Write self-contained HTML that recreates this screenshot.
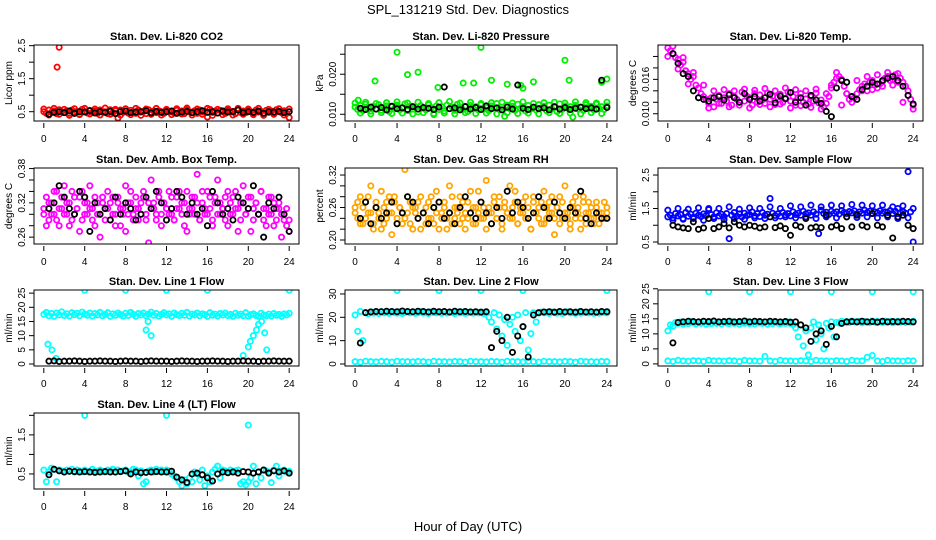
<!DOCTYPE html>
<html><head><meta charset="utf-8"><style>
html,body{margin:0;padding:0;background:#fff;}
svg{display:block;font-family:"Liberation Sans",Arial,sans-serif;}
</style></head><body>
<svg id="chart" width="936" height="540" viewBox="0 0 936 540" xmlns="http://www.w3.org/2000/svg">
<text x="468" y="14" text-anchor="middle" font-size="13">SPL_131219  Std. Dev. Diagnostics</text>
<text x="468" y="531" text-anchor="middle" font-size="13">Hour of Day (UTC)</text>
</svg>
<script>
const xTicks=[0,4,8,12,16,20,24];
const co2Red=[0.5,0.45,0.55,0.48,0.52,0.44,0.56,0.5,0.47,0.53,0.45,0.55,0.49,0.51,0.43,0.57,0.5,0.46,0.54,0.48,0.52,0.45,0.55,0.49,0.5,0.44,0.56,0.47,0.53,0.31,0.55,0.48,0.52,0.46,0.54,0.5,0.45,0.55,0.49,0.51,0.44,0.56,0.48,0.52,0.47,0.53,0.5,0.45,0.55,0.49,0.51,0.46,0.54,0.48,0.52,0.44,0.56,0.5,0.47,0.53,0.45,0.55,0.49,0.51,0.34,0.57,0.48,0.52,0.46,0.54,0.5,0.45,0.55,0.49,0.51,0.44,0.56,0.48,0.52,0.47,0.53,0.5,0.45,0.55,0.49,0.51,0.46,0.54,0.48,0.52,0.44,0.56,0.5,0.47,0.53,0.45,0.32];
const co2Red2=[0.58,0.4,0.6,0.42,0.57,0.39,0.59,0.41,0.6,0.43,0.58,0.4,0.61,0.42,0.57,0.4,0.59,0.41,0.6,0.39,0.58,0.42,0.6,0.4,0.57,0.41,0.59,0.43,0.61,0.4,0.58,0.42,0.6,0.39,0.57,0.41,0.59,0.4,0.6,0.42,0.58,0.41,0.6,0.39,0.57,0.42,0.59,0.4,0.58];
const co2OutX=[1.3,1.5];
const co2OutY=[1.85,2.45];
const co2Black=[0.42,0.48,0.5,0.47,0.52,0.45,0.5,0.49,0.53,0.46,0.5,0.48,0.51,0.44,0.5,0.52,0.47,0.49,0.5,0.53,0.46,0.51,0.48,0.5,0.52,0.45,0.49,0.51,0.47,0.5,0.53,0.48,0.5,0.46,0.52,0.49,0.5,0.55,0.47,0.5,0.48,0.52,0.45,0.5,0.49,0.51,0.47,0.5];
const pressGreen=[0.0118,0.0112,0.0122,0.0109,0.0125,0.0115,0.0108,0.012,0.0113,0.0124,0.011,0.0117,0.0121,0.0107,0.0119,0.0114,0.0123,0.0111,0.0116,0.0126,0.0109,0.012,0.0113,0.0118,0.0106,0.0122,0.0115,0.0111,0.0124,0.0117,0.0099,0.0121,0.0112,0.0119,0.0108,0.0123,0.0114,0.0118,0.011,0.0125,0.0116,0.0112,0.012,0.0107,0.0122,0.0115,0.0119,0.0111,0.0124,0.0113,0.0117,0.0109,0.0121,0.0116,0.0127,0.0112,0.0118,0.0095,0.0123,0.0114,0.012,0.011,0.0125,0.0115,0.0119,0.0108,0.0122,0.0113,0.0117,0.0111,0.0124,0.0116,0.012,0.0109,0.0123,0.0114,0.0118,0.0107,0.0126,0.0112,0.0121,0.0115,0.0119,0.0093,0.0122,0.0113,0.0117,0.011,0.0124,0.0116,0.012,0.0111,0.0125,0.0114,0.0119,0.0112,0.0121];
const pressGreen2=[0.0128,0.0103,0.013,0.0101,0.0127,0.0104,0.0129,0.0102,0.0131,0.0103,0.0128,0.0101,0.013,0.0104,0.0127,0.0102,0.0129,0.0103,0.0132,0.0101,0.0128,0.0104,0.013,0.0102,0.0127,0.0103,0.0129,0.0101,0.013,0.0104,0.0128,0.0102,0.0131,0.0103,0.0127,0.0101,0.0129,0.0104,0.013,0.0102,0.0128,0.0103,0.0131,0.0101,0.0129,0.0104,0.0128,0.0102,0.013];
const pressOutX=[0.3,1.9,4,5,6,7.9,10.3,11.3,12,13,14.5,15.8,16,17,20,20.4,23.5,24];
const pressOutY=[0.0135,0.0183,0.0255,0.0199,0.0205,0.0167,0.0178,0.0178,0.0267,0.0185,0.0175,0.0172,0.0165,0.0181,0.0235,0.0185,0.018,0.0188];
const pressBlack=[0.0115,0.0112,0.0118,0.0113,0.0117,0.0111,0.012,0.0114,0.0116,0.0112,0.0119,0.0113,0.0117,0.0115,0.0112,0.0118,0.0168,0.0114,0.0116,0.0111,0.0119,0.0113,0.0117,0.0112,0.0121,0.0114,0.0116,0.0111,0.0118,0.0113,0.0173,0.0115,0.0112,0.0118,0.0114,0.0116,0.0111,0.0119,0.0113,0.0117,0.0112,0.0115,0.0118,0.0114,0.0116,0.0113,0.0185,0.0117];
const tempMag=[0.0215,0.021,0.0205,0.0198,0.0195,0.0185,0.019,0.0175,0.017,0.016,0.0165,0.015,0.0145,0.0135,0.013,0.0125,0.0118,0.0128,0.0112,0.0125,0.0132,0.0118,0.0128,0.0122,0.0135,0.0115,0.013,0.0125,0.012,0.0138,0.0122,0.013,0.0128,0.0115,0.0135,0.012,0.0133,0.0124,0.0118,0.0136,0.0125,0.0131,0.0116,0.0129,0.0134,0.012,0.0127,0.0138,0.0122,0.013,0.0115,0.0128,0.0135,0.012,0.0126,0.0117,0.013,0.0122,0.0136,0.0119,0.0124,0.0112,0.0118,0.013,0.0145,0.0155,0.0162,0.0165,0.016,0.0148,0.0135,0.0125,0.012,0.0128,0.0135,0.0142,0.0148,0.0152,0.014,0.0155,0.0158,0.015,0.0145,0.0152,0.0156,0.0162,0.0165,0.0158,0.016,0.0168,0.0155,0.0162,0.0155,0.0148,0.0132,0.0125,0.0115];
const tempMag2=[0.0200,0.0218,0.0178,0.0198,0.0152,0.0172,0.0128,0.0150,0.0110,0.0140,0.0118,0.0142,0.0112,0.0140,0.0115,0.0143,0.0110,0.0141,0.0116,0.0144,0.0112,0.0140,0.0117,0.0145,0.0110,0.0142,0.0114,0.0140,0.0111,0.0143,0.0108,0.0135,0.0150,0.0172,0.0115,0.0135,0.0130,0.0158,0.0140,0.0165,0.0142,0.0168,0.0148,0.0172,0.0150,0.0170,0.0120,0.0140,0.0108];
const tempBlack=[0.0205,0.0188,0.017,0.0165,0.014,0.0128,0.0125,0.0122,0.0128,0.013,0.0124,0.0133,0.0128,0.012,0.0135,0.0125,0.013,0.0122,0.0128,0.0134,0.0119,0.0131,0.0126,0.0137,0.012,0.0128,0.0115,0.0132,0.0124,0.0118,0.0104,0.0095,0.0145,0.0158,0.0155,0.013,0.0125,0.0142,0.0148,0.0155,0.0152,0.0158,0.0162,0.0165,0.0158,0.0148,0.0132,0.0117];
const ambA=[0.31,0.33,0.29,0.32,0.3,0.34,0.28,0.31,0.35,0.3,0.32,0.29,0.33,0.31,0.27,0.34,0.3,0.32,0.31,0.29,0.33,0.3,0.26,0.32,0.31,0.34,0.29,0.33,0.3,0.32,0.28,0.31,0.35,0.3,0.32,0.29,0.33,0.31,0.3,0.34,0.29,0.32,0.36,0.31,0.3,0.33,0.28,0.32,0.31,0.34,0.3,0.29,0.33,0.31,0.32,0.28,0.34,0.3,0.31,0.33,0.37,0.29,0.32,0.3,0.34,0.31,0.28,0.33,0.3,0.32,0.31,0.29,0.34,0.3,0.33,0.31,0.27,0.32,0.35,0.3,0.31,0.33,0.29,0.32,0.3,0.34,0.31,0.28,0.33,0.3,0.32,0.29,0.31,0.26,0.3,0.28,0.29];
const ambB=[0.3,0.28,0.32,0.3,0.34,0.29,0.31,0.33,0.3,0.32,0.28,0.34,0.3,0.31,0.33,0.29,0.32,0.3,0.35,0.31,0.28,0.32,0.3,0.33,0.29,0.31,0.32,0.3,0.28,0.33,0.31,0.3,0.27,0.32,0.34,0.3,0.31,0.29,0.32,0.33,0.3,0.25,0.31,0.32,0.29,0.34,0.3,0.32,0.31,0.3,0.33,0.29,0.31,0.34,0.3,0.32,0.27,0.31,0.33,0.3,0.32,0.29,0.34,0.31,0.3,0.33,0.29,0.32,0.36,0.3,0.31,0.33,0.28,0.32,0.3,0.34,0.31,0.29,0.32,0.3,0.33,0.27,0.31,0.32,0.3,0.34,0.29,0.31,0.3,0.33,0.28,0.31,0.32,0.3,0.29,0.31,0.27];
const ambBlack=[0.31,0.32,0.35,0.33,0.31,0.3,0.34,0.33,0.27,0.32,0.3,0.31,0.29,0.33,0.3,0.32,0.31,0.29,0.3,0.33,0.31,0.34,0.32,0.29,0.31,0.34,0.33,0.3,0.32,0.3,0.31,0.28,0.34,0.32,0.3,0.31,0.29,0.33,0.32,0.31,0.35,0.3,0.26,0.32,0.31,0.33,0.3,0.27];
const rhA=[0.26,0.24,0.28,0.23,0.27,0.25,0.3,0.22,0.26,0.24,0.29,0.23,0.27,0.25,0.21,0.28,0.24,0.26,0.23,0.33,0.25,0.27,0.22,0.26,0.24,0.28,0.25,0.23,0.27,0.24,0.26,0.29,0.22,0.25,0.27,0.24,0.3,0.23,0.26,0.25,0.28,0.24,0.22,0.27,0.25,0.26,0.23,0.29,0.24,0.26,0.31,0.25,0.23,0.27,0.24,0.28,0.22,0.26,0.25,0.3,0.24,0.27,0.23,0.26,0.25,0.28,0.24,0.22,0.27,0.25,0.26,0.23,0.29,0.24,0.27,0.25,0.21,0.26,0.28,0.24,0.3,0.25,0.23,0.27,0.24,0.26,0.22,0.28,0.25,0.27,0.24,0.23,0.26,0.25,0.24,0.27,0.25];
const rhB=[0.25,0.27,0.23,0.26,0.24,0.28,0.25,0.23,0.27,0.25,0.22,0.26,0.24,0.28,0.25,0.27,0.23,0.26,0.25,0.24,0.28,0.23,0.26,0.25,0.27,0.22,0.25,0.26,0.24,0.28,0.23,0.25,0.27,0.24,0.26,0.22,0.25,0.28,0.24,0.26,0.23,0.27,0.25,0.24,0.29,0.23,0.26,0.25,0.27,0.24,0.22,0.26,0.25,0.28,0.24,0.26,0.23,0.27,0.25,0.24,0.26,0.29,0.23,0.25,0.27,0.24,0.26,0.22,0.28,0.25,0.24,0.27,0.23,0.26,0.25,0.28,0.24,0.26,0.23,0.27,0.25,0.24,0.22,0.26,0.28,0.25,0.24,0.27,0.23,0.25,0.26,0.24,0.27,0.23,0.25,0.24,0.26];
const rhBlack=[0.24,0.27,0.23,0.26,0.24,0.25,0.27,0.23,0.25,0.28,0.27,0.24,0.25,0.23,0.26,0.27,0.24,0.25,0.23,0.26,0.28,0.25,0.24,0.27,0.25,0.23,0.26,0.24,0.29,0.25,0.27,0.26,0.24,0.25,0.28,0.26,0.24,0.27,0.25,0.24,0.26,0.25,0.29,0.24,0.23,0.25,0.24,0.24];
const flowBlue=[1.25,1.3,1.22,1.35,1.28,1.32,1.2,1.38,1.27,1.33,1.24,1.36,1.3,1.26,1.34,1.29,1.5,1.32,1.25,1.37,1.28,1.33,1.26,1.35,0.6,1.3,1.38,1.27,1.34,1.25,1.36,1.29,1.32,1.4,1.28,1.35,1.26,1.38,1.3,1.33,1.8,1.36,1.29,1.34,1.27,1.38,1.31,1.35,1.28,1.4,1.32,1.36,1.3,1.42,1.34,1.37,1.3,1.4,1.33,0.75,1.45,1.35,1.39,1.32,1.42,1.36,1.4,1.33,1.44,1.38,1.35,1.41,1.37,1.43,1.34,1.4,1.36,1.45,1.38,1.42,1.35,1.4,1.37,1.43,1.36,1.4,1.38,1.44,1.35,1.42,1.5,1.37,1.41,1.36,2.6,1.4,0.5];
const flowBlue2=[1.45,1.15,1.5,1.18,1.48,1.2,1.52,1.15,1.47,1.2,1.5,1.17,1.55,1.2,1.48,1.18,1.52,1.22,1.5,1.2,1.55,1.22,1.5,1.25,1.58,1.22,1.55,1.25,1.6,1.2,1.55,1.25,1.6,1.22,1.58,1.25,1.62,1.23,1.6,1.25,1.58,1.22,1.6,1.25,1.55,1.2,1.58,1.22,1.5];
const flowBlack=[1.0,0.95,0.92,0.9,1.1,0.88,0.92,1.2,0.9,0.95,1.05,0.92,1.1,1.0,0.95,1.0,0.97,0.92,0.95,1.25,0.93,0.98,0.9,0.7,1.0,0.95,1.2,0.92,0.95,0.93,1.3,0.95,1.0,0.9,1.25,0.95,1.3,1.0,0.95,1.35,1.0,0.95,1.3,0.62,1.25,1.3,1.0,0.9];
const line1Cyan=[17.5,18.2,17,17.8,16.8,18,17.3,18.4,17.1,17.7,16.9,18.1,17.4,17.9,17,18.3,17.6,17.2,18,16.9,17.8,17.3,18.2,17,17.5,18.1,16.8,17.7,17.2,18,17.4,16.9,17.9,17.1,18.2,17.5,16.8,17.8,17.3,18,17,17.6,18.3,17.2,17.8,16.9,17.5,18.1,17.3,17.7,16.8,18,17.4,17.1,17.9,17.2,18.2,16.9,17.6,17.3,18,17,17.7,17.4,16.8,18.1,17.2,17.6,16.9,17.8,17.3,18,17.1,17.5,16.8,17.9,17.2,17.6,17,18.1,16.9,17.4,17.7,17.1,16.8,17.9,17.3,17,17.6,16.9,17.8,17.2,17.5,16.8,17.7,17.3,17.9];
const line1OutX=[0.4,0.8,1.2,4,8,10,10.2,10.5,12,16,19.5,20,20.2,20.5,20.8,21,21.3,21.6,21.8,24];
const line1OutY=[7,5,2,26,26,12,15,10,26,26,3,6,8,10,12,14,15,11,5,26];
const line1Black=[1,1.1,0.9,1,1,1.1,1,0.9,1,1,1.1,1,1,0.9,1,1.1,1,1,0.9,1,1.1,1,1,1,0.9,1,1.1,1,1,0.9,1,1,1.1,1,1,0.9,1,1,1.1,1,1,0.9,1,1,1.1,1,1,1];
const line2Cyan=[21,14,22.5,10,22,21.5,22.4,21.8,22.2,21.6,22.5,21.9,22.1,21.7,22.3,22,21.8,22.4,21.6,22.1,22.3,21.9,22.2,21.7,22,22.4,21.8,22.1,21.6,22.3,22,21.9,22.2,21.7,22.4,21.8,22.1,22,21.6,22.3,21.9,22.2,21.7,22,22.4,21.8,22.1,21.9,22.3,21.6,22,20,18,22,15,21,12,19,8,17,20,14,21,10,16,22,6,13,22,18,21.8,22.2,21.9,22.1,21.7,22.3,22,21.8,22.2,21.6,22.1,22.4,21.9,22,21.7,22.3,21.8,22.1,22,21.9,22.2,21.7,22.3,21.8,22,22.1,21.9];
const line2Base=[1,0.8,1.2,1,0.9,1.1,1,0.8,1.2,1,1,0.9,1.1,1,0.8,1.2,1,1,0.9,1.1,1,0.8,1.2,1,1,0.9,1.1,1,0.8,1.2,1,1,0.9,1.1,1,0.8,1.2,1,1,0.9,1.1,1,0.8,1.2,1,1,0.9,1.1,1];
const line2OutX=[4,8,12,16,24];
const line2OutY=[31.5,31.5,31.5,31.5,31.5];
const line2Black=[9,22,22.3,22.5,22.4,22.6,22.5,22.4,22.7,22.5,22.4,22.6,22.5,22.3,22.6,22.4,22.5,22.3,22.6,22.4,22.5,22.3,22.4,22.2,22.4,7,14,10,20,5,12,16,3,21,22,22.3,22.4,22.2,22.5,22.3,22.4,22.2,22.5,22.3,22.4,22.2,22.5,22.4];
const line3Cyan=[11,13,12.5,13.8,13.5,14,13.2,13.8,13.4,14.1,13.6,13.3,13.9,13.5,14,13.2,13.7,13.4,14.1,13.5,13.8,13.3,13.9,13.6,13.4,14,13.5,13.8,13.2,13.7,13.5,14.1,13.4,13.8,13.3,13.9,13.6,13.5,14,13.2,13.7,13.4,13.9,13.6,13.3,13.8,13.5,14,13.4,13.1,12,9,13,6,11,3,12,14,8,13,10,5,13.5,12,14,9,13.8,13.6,14.2,13.9,14.1,13.8,14.3,14,13.9,14.2,13.7,14.1,14,13.8,14.3,13.9,14.1,14,13.8,14.2,13.9,14.1,13.7,14,14.2,13.9,14.1,13.8,14,13.9,14.2];
const line3Base=[1,0.8,1.2,1,0.9,1.1,1,0.8,1.2,1,1,0.9,1.1,1,0.8,1.2,1,1,0.9,2.5,1,0.8,1.2,1,1,0.9,1.1,1,0.8,1.2,1,1,0.9,1.1,1,0.8,1.2,1,1,2.2,2.8,1,0.8,1.2,1,1,0.9,1.1,1];
const line3OutX=[4,8,12,16,20,24];
const line3OutY=[24,24,24,24,24,24];
const line3Black=[7,13.8,14,14.2,14.1,14,14.2,14.1,14.3,14,14.1,14.2,14,14.1,14.3,14,14.2,14.1,14,14.2,14.1,14,14.1,13.9,14,13,12,7.5,10,11,6.5,12.5,9,13.5,14,14.1,14,14.2,14,14.1,13.9,14.2,14,14.1,14,14.2,14.1,14];
const line4Cyan=[0.6,0.3,0.55,0.65,0.62,0.3,0.6,0.58,0.55,0.6,0.57,0.62,0.55,0.6,0.58,0.56,0.6,0.57,0.55,0.62,0.58,0.56,0.6,0.57,0.55,0.6,0.58,0.62,0.55,0.6,0.57,0.58,0.6,0.56,0.55,0.62,0.6,0.45,0.58,0.25,0.3,0.58,0.6,0.55,0.62,0.58,0.6,0.56,0.6,0.58,0.5,0.45,0.4,0.3,0.2,0.35,0.25,0.4,0.3,0.55,0.5,0.35,0.6,0.2,0.45,0.3,0.55,0.62,0.7,0.4,0.6,0.58,0.55,0.6,0.57,0.58,0.6,0.25,0.3,0.22,0.3,0.4,0.7,0.25,0.55,0.4,0.6,0.58,0.55,0.28,0.6,0.7,0.45,0.58,0.6,0.55,0.57];
const line4OutX=[4,12,20];
const line4OutY=[2.0,2.0,1.75];
const line4Black=[0.48,0.62,0.58,0.55,0.57,0.56,0.55,0.56,0.55,0.54,0.55,0.56,0.55,0.55,0.56,0.58,0.5,0.55,0.53,0.54,0.55,0.56,0.55,0.55,0.57,0.42,0.35,0.28,0.5,0.52,0.48,0.4,0.32,0.5,0.55,0.53,0.55,0.52,0.56,0.55,0.52,0.55,0.6,0.52,0.58,0.55,0.58,0.52];

const NS='http://www.w3.org/2000/svg';
const svg=document.getElementById('chart');
function mk(tag,attrs,parent){const e=document.createElementNS(NS,tag);for(const k in attrs)e.setAttribute(k,attrs[k]);(parent||svg).appendChild(e);return e;}

function panel(p){
  const g=mk('g',{});
  
  
  const L=p.left,T=p.top,W=p.w,H=76;
  const ppu=W/25.92;
  const xs=h=>L+(h+0.96)*ppu;
  const ys=v=>T+H-(v-p.ylim[0])/(p.ylim[1]-p.ylim[0])*H;
  const t=mk('text',{x:L+W/2,y:T-5,'text-anchor':'middle','font-size':11,'font-weight':'bold'},g);
  t.textContent=p.title;
  
  
  xTicks.forEach(h=>{
    const x=xs(h);
    mk('line',{x1:x,x2:x,y1:T+H+2,y2:T+H+7,stroke:'#000','stroke-width':1},g);
    const tl=mk('text',{x:x,y:T+H+21,'text-anchor':'middle','font-size':10},g);
    tl.textContent=h;
    
    
  });
  p.yTicks.forEach((v,i)=>{
    const y=ys(v);
    mk('line',{x1:L-5,x2:L,y1:y,y2:y,stroke:'#000','stroke-width':1},g);
    if(p.yLabels[i]){
      const tl=mk('text',{x:0,y:0,'text-anchor':'middle','font-size':10,transform:`translate(${L-9},${y}) rotate(-90)`},g);
      tl.textContent=p.yLabels[i];
      
      
    }
  });
  const yl=mk('text',{x:0,y:0,'text-anchor':'middle','font-size':10,transform:`translate(${L-22},${T+H/2}) rotate(-90)`},g);
  yl.textContent=p.ylab;
  
  
  const clip='c'+p.name;
  const cp=mk('clipPath',{id:clip},g);mk('rect',{x:L,y:T,width:W,height:H},cp);
  const pts=mk('g',{'clip-path':`url(#${clip})`,fill:'none','stroke-width':1.8},g);
  function series(arr,x0,x1,col){
    arr.forEach((v,i)=>{
      const h=x0+i*(x1-x0)/(arr.length-1);
      const c=mk('circle',{cx:xs(h),cy:ys(v),r:2.6,stroke:col},pts);
      
      
    });
  }
  p.color.forEach(a=>series(a,0,24,p.col));
  if(p.outX){p.outX.forEach((h,i)=>{
    const c=mk('circle',{cx:xs(h),cy:ys(p.outY[i]),r:2.6,stroke:p.col},pts);
    
    
  });}
  series(p.black,0.5,24,'#000');
  const box=mk('rect',{x:L,y:T,width:W,height:H,fill:'none',stroke:'#000','stroke-width':1},g);
  
  
}
const C1=34,C2=345,C3=658,W1=265,W2=272,W3=265;
const R1=45,R2=168,R3=290,R4=413;
panel({name:'co2-panel',title:'Stan. Dev. Li-820 CO2',ylab:'Licor ppm',left:C1,top:R1,w:W1,ylim:[0.218,2.52],yTicks:[0.5,1,1.5,2,2.5],yLabels:['0.5','','1.5','','2.5'],col:'#ff0000',color:[co2Red,co2Red2],outX:co2OutX,outY:co2OutY,black:co2Black});
panel({name:'pressure-panel',title:'Stan. Dev. Li-820 Pressure',ylab:'kPa',left:C2,top:R1,w:W2,ylim:[0.00832,0.0273],yTicks:[0.010,0.015,0.020,0.025],yLabels:['0.010','','0.020',''],col:'#00ee00',color:[pressGreen,pressGreen2],outX:pressOutX,outY:pressOutY,black:pressBlack});
panel({name:'temp-panel',title:'Stan. Dev. Li-820 Temp.',ylab:'degrees C',left:C3,top:R1,w:W3,ylim:[0.00873,0.0220],yTicks:[0.010,0.012,0.014,0.016,0.018,0.020],yLabels:['0.010','','','0.016','',''],col:'#ff00ff',color:[tempMag,tempMag2],black:tempBlack});
panel({name:'amb-box-panel',title:'Stan. Dev. Amb. Box Temp.',ylab:'degrees C',left:C1,top:R2,w:W1,ylim:[0.248,0.381],yTicks:[0.26,0.28,0.30,0.32,0.34,0.36,0.38],yLabels:['0.26','','','0.32','','','0.38'],col:'#ff00ff',color:[ambA,ambB],black:ambBlack});
panel({name:'rh-panel',title:'Stan. Dev. Gas Stream RH',ylab:'percent',left:C2,top:R2,w:W2,ylim:[0.1926,0.333],yTicks:[0.20,0.22,0.24,0.26,0.28,0.30,0.32],yLabels:['0.20','','','0.26','','','0.32'],col:'#ffa500',color:[rhA,rhB],black:rhBlack});
panel({name:'sample-flow-panel',title:'Stan. Dev. Sample Flow',ylab:'ml/min',left:C3,top:R2,w:W3,ylim:[0.44,2.71],yTicks:[0.5,1,1.5,2,2.5],yLabels:['0.5','','1.5','','2.5'],col:'#0000ff',color:[flowBlue,flowBlue2],black:flowBlack});
panel({name:'line1-panel',title:'Stan. Dev. Line 1 Flow',ylab:'ml/min',left:C1,top:R3,w:W1,ylim:[-0.7,26.1],yTicks:[0,5,10,15,20,25],yLabels:['0','5','10','15','20','25'],col:'#00ffff',color:[line1Cyan],outX:line1OutX,outY:line1OutY,black:line1Black});
panel({name:'line2-panel',title:'Stan. Dev. Line 2 Flow',ylab:'ml/min',left:C2,top:R3,w:W2,ylim:[-0.86,31.7],yTicks:[0,10,20,30],yLabels:['0','10','20','30'],col:'#00ffff',color:[line2Cyan,line2Base],outX:line2OutX,outY:line2OutY,black:line2Black});
panel({name:'line3-panel',title:'Stan. Dev. Line 3 Flow',ylab:'ml/min',left:C3,top:R3,w:W3,ylim:[-0.7,24.6],yTicks:[0,5,10,15,20,25],yLabels:['0','5','10','15','20','25'],col:'#00ffff',color:[line3Cyan,line3Base],outX:line3OutX,outY:line3OutY,black:line3Black});
panel({name:'line4-panel',title:'Stan. Dev. Line 4 (LT) Flow',ylab:'ml/min',left:C1,top:R4,w:W1,ylim:[0.115,2.06],yTicks:[0.5,1,1.5,2],yLabels:['0.5','','1.5',''],col:'#00ffff',color:[line4Cyan],outX:line4OutX,outY:line4OutY,black:line4Black});
</script>
</body></html>
